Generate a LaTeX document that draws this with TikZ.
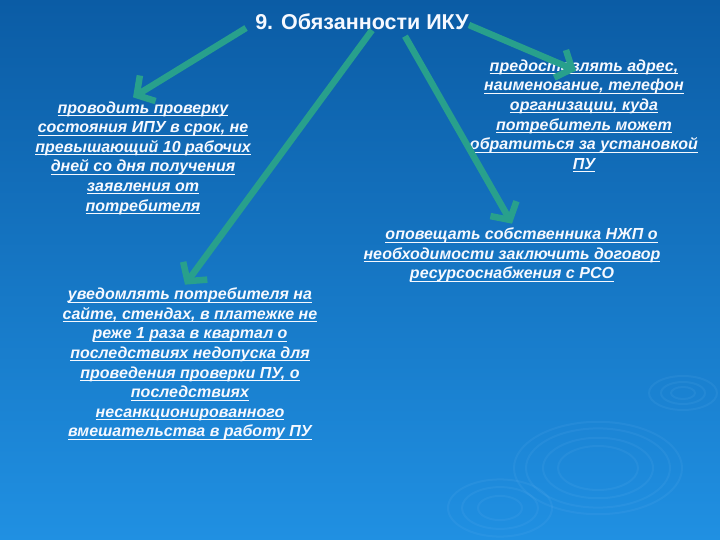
\documentclass[tikz,border=0pt]{standalone}
\usepackage{fontspec}
\setmainfont{Liberation Sans}
\usetikzlibrary{calc,arrows.meta}
\definecolor{fonbleu}{RGB}{11,92,165}
\definecolor{fonmilieu}{RGB}{14,108,188}
\definecolor{fonclair}{RGB}{32,144,226}
\definecolor{fleche}{RGB}{40,160,140}
\definecolor{texte}{RGB}{246,249,255}
\definecolor{onde}{RGB}{120,190,245}
\newcommand{\souligne}[1]{\setbox0\hbox{#1}\rlap{\rule[-2.8pt]{\wd0}{0.9pt}}\box0}
\tikzstyle{titre} = [text=texte, font=\fontsize{21.5}{25}\selectfont\bfseries, inner sep=0pt]
\tikzstyle{devoir} = [text=texte, font=\fontsize{16}{19.6}\selectfont\bfseries\itshape, align=center, inner sep=0pt]
\tikzstyle{lien} = [draw=fleche, line width=6.5pt, -{Straight Barb[length=13pt,width=30pt]}]
\tikzstyle{cercle} = [draw=onde, opacity=0.1, line width=2pt]

\begin{document}
\begin{tikzpicture}[x=1pt,y=-1pt]
                \shade[top color=fonbleu, middle color=fonmilieu, bottom color=fonclair] (0,0) rectangle (720,540);
                \useasboundingbox (0,0) rectangle (720,540);

                % ronds dans l'eau
                \foreach \r in {40,55,72,84} \draw[cercle] (598,468) ellipse ({\r} and {0.55*\r});
                \foreach \r in {12,22,34} \draw[cercle] (683,393) ellipse ({\r} and {0.5*\r});
                \foreach \r in {22,38,52} \draw[cercle] (500,508) ellipse ({\r} and {0.55*\r});

                \node (titre) [titre] at (362,22) {9. Обязанности ИКУ};

                \node (verifier) [devoir] at (143,158) {\souligne{проводить проверку}\\
                    \souligne{состояния ИПУ в срок, не}\\
                    \souligne{превышающий 10 рабочих}\\
                    \souligne{дней со дня получения}\\
                    \souligne{заявления от}\\
                    \souligne{потребителя}};

                \node (adresse) [devoir] at (584,116) {\souligne{предоставлять адрес,}\\
                    \souligne{наименование, телефон}\\
                    \souligne{организации, куда}\\
                    \souligne{потребитель может}\\
                    \souligne{обратиться за установкой}\\
                    \souligne{ПУ}};

                \node (informer) [devoir] at (512,255) {\hspace*{1.2em}\souligne{оповещать собственника НЖП о}\\
                    \souligne{необходимости заключить договор}\\
                    \souligne{ресурсоснабжения с РСО}};

                \node (notifier) [devoir] at (190,364) {\souligne{уведомлять потребителя на}\\
                    \souligne{сайте, стендах, в платежке не}\\
                    \souligne{реже 1 раза в квартал о}\\
                    \souligne{последствиях недопуска для}\\
                    \souligne{проведения проверки ПУ, о}\\
                    \souligne{последствиях}\\
                    \souligne{несанкционированного}\\
                    \souligne{вмешательства в работу ПУ}};

                \draw[lien] ($(titre.west)+(-9,6)$) -- ($(verifier.north)+(-10,-4)$);
                \draw[lien] ($(titre.south)+(10,0)$) -- ($(notifier.north)+(-5,-3)$);
                \draw[lien] ($(titre.south)+(43,6)$) -- ($(informer.north)+(0,-4)$);
                \draw[lien] ($(titre.east)+(0,3)$) -- ($(adresse.north)+(-8,11)$);
            \end{tikzpicture}
\end{document}
